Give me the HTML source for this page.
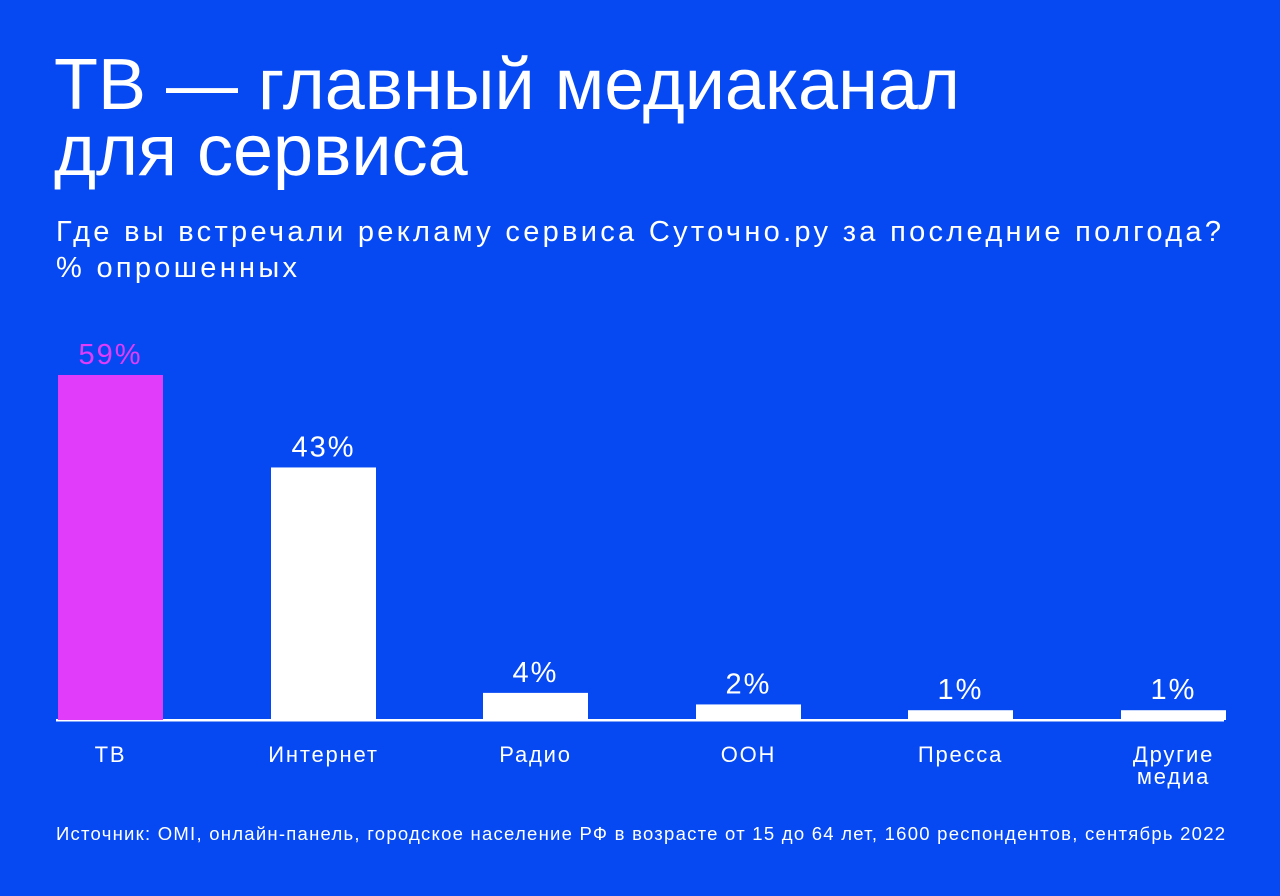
<!DOCTYPE html>
<html><head><meta charset="utf-8"><style>
html,body{margin:0;padding:0}
body{width:1280px;height:896px;background:#0649F2;color:#fff;font-family:"Liberation Sans",sans-serif;position:relative;overflow:hidden}
.t{position:absolute;left:54px;top:52px;font-size:72px;line-height:66px;margin:0;font-weight:normal;letter-spacing:0px}
.s{position:absolute;left:56px;top:214px;font-size:29px;line-height:36px;letter-spacing:3.3px}
.src{position:absolute;left:56px;top:823px;font-size:18.5px;letter-spacing:1.25px}
svg{position:absolute;left:0;top:0}
</style></head><body>
<h1 class="t">ТВ — главный медиаканал<br>для сервиса</h1>
<div class="s">Где вы встречали рекламу сервиса Суточно.ру за последние полгода?<br>% опрошенных</div>
<div class="src">Источник: OMI, онлайн-панель, городское население РФ в возрасте от 15 до 64 лет, 1600 респондентов, сентябрь 2022</div>
<svg id="c" width="1280" height="896"></svg>
<script>
const categories=[["ТВ"],["Интернет"],["Радио"],["ООН"],["Пресса"],["Другие","медиа"]];
const values=[59,43,4,2,1,1];
const labels=["59%","43%","4%","2%","1%","1%"];
const NS="http://www.w3.org/2000/svg";
const svg=document.getElementById('c');
const base=720,pxPer=5.78,x0=58,step=212.6,bw=105;
function y(v){return base-(v>0?4+v*pxPer:0);}
function x(i){return Math.round(x0+i*step);}
function mk(t,a){const e=document.createElementNS(NS,t);for(const k in a)e.setAttribute(k,a[k]);svg.appendChild(e);return e;}
const ax=mk('rect',{x:56,y:base-1,width:1168,height:2.5,fill:'#fff'});


values.forEach((v,i)=>{
  const top=y(v);
  const r=mk('rect',{x:x(i),y:top,width:bw,height:base-top,fill:i==0?'#E03CFA':'#fff'});
  
  
  const t=mk('text',{x:x(i)+bw/2,y:top-11,'text-anchor':'middle','font-size':29,'letter-spacing':2,fill:i==0?'#E03CFA':'#fff','font-family':'Liberation Sans, sans-serif'});
  t.textContent=labels[i];
  
  
  categories[i].forEach((ln,j)=>{
    const c=mk('text',{x:x(i)+bw/2,y:762+j*22,'text-anchor':'middle','font-size':22,'letter-spacing':1.8,fill:'#fff','font-family':'Liberation Sans, sans-serif'});
    c.textContent=ln;
    
    
  });
});
</script>
</body></html>
